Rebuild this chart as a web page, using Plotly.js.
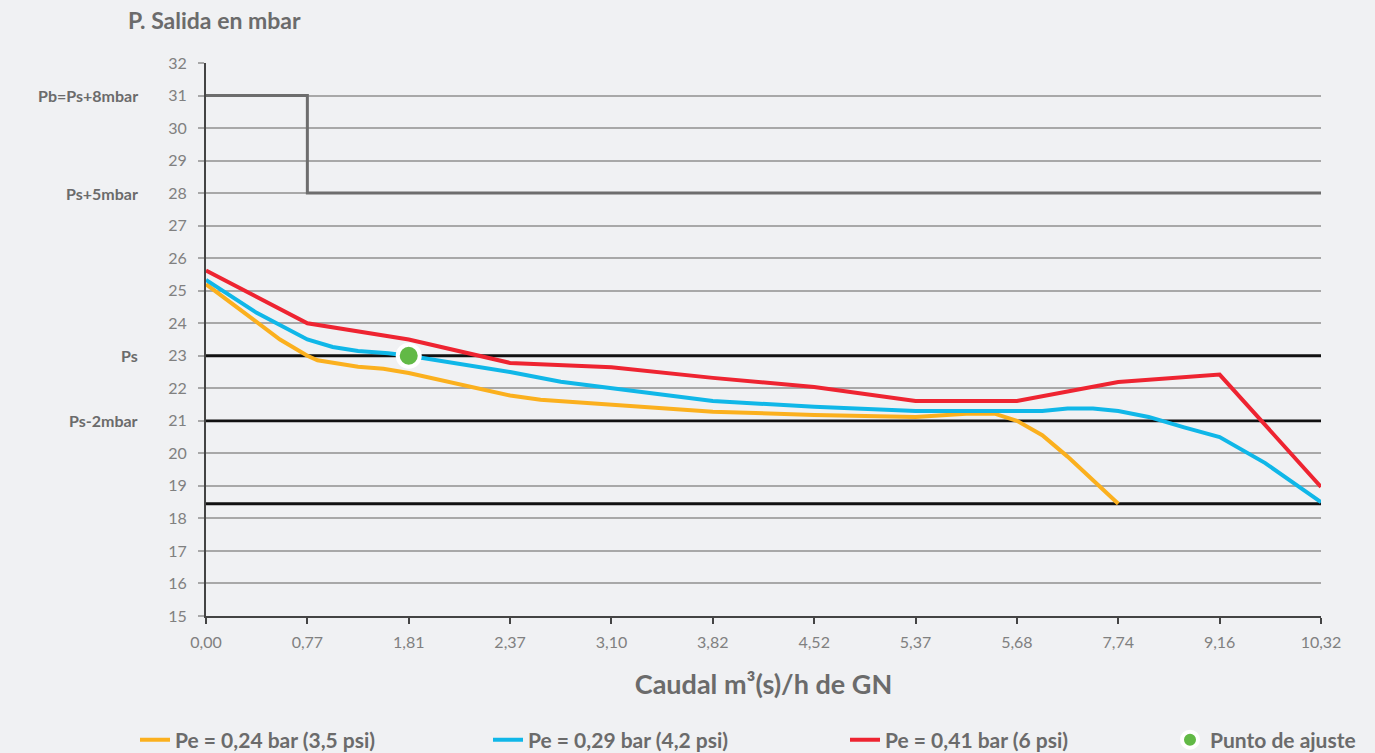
<!DOCTYPE html>
<html>
<head>
<meta charset="utf-8">
<script src="https://cdn.plot.ly/plotly-3.0.1.min.js"></script>
<style>
html,body{margin:0;padding:0;background:#f0f1f3;}
#chart{width:1375px;height:753px;}
</style>
</head>
<body>
<div id="chart"></div>
<script>
// Category tick labels (equally spaced positions on the x axis)
const xTickLabels = ['0,00','0,77','1,81','2,37','3,10','3,82','4,52','5,37','5,68','7,74','9,16','10,32'];
const xTickPos = [0,1,2,3,4,5,6,7,8,9,10,11];

// Series: position along the category axis and outlet pressure (mbar)
const orangeX = [0, 0.5, 0.73, 1, 1.1, 1.5, 1.75, 2, 2.25, 2.5, 3, 3.3, 4, 5, 6, 7, 7.5, 7.78, 8, 8.25, 8.5, 9];
const orangeY = [25.2, 24.05, 23.5, 23.0, 22.86, 22.66, 22.6, 22.47, 22.3, 22.1, 21.78, 21.65, 21.5, 21.28, 21.18, 21.12, 21.22, 21.22, 21.0, 20.56, 19.9, 18.45];

const blueX = [0, 0.5, 1, 1.25, 1.5, 1.8, 2, 2.6, 3, 3.5, 4, 5, 6, 7, 8, 8.25, 8.5, 8.75, 9, 9.3, 9.65, 10, 10.45, 11];
const blueY = [25.33, 24.32, 23.5, 23.27, 23.15, 23.08, 23.0, 22.7, 22.5, 22.2, 22.0, 21.61, 21.43, 21.3, 21.3, 21.3, 21.38, 21.38, 21.3, 21.12, 20.8, 20.5, 19.7, 18.5];

const redX = [0,1,2,3,4,5,6,7,8,9,10,11];
const redY = [25.62, 24.0, 23.5, 22.78, 22.65, 22.32, 22.04, 21.61, 21.61, 22.19, 22.42, 18.97];

const adjX = [2];
const adjY = [23.0];

// Reference levels
const refLevels = [23, 21, 18.45];
const stepX = [0, 1, 1, 11];
const stepY = [31, 31, 28, 28];
const refLabels = ['Pb=Ps+8mbar', 'Ps+5mbar', 'Ps', 'Ps-2mbar'];
const refLabelY = [31, 28, 23, 21];

const seriesNames = ['Pe = 0,24 bar (3,5 psi)', 'Pe = 0,29 bar (4,2 psi)', 'Pe = 0,41 bar (6 psi)', 'Punto de ajuste'];

const FONT = 'Lato, "Open Sans", sans-serif';
const GREY = '#6b6b6b';

const traces = [];
refLevels.forEach(function(lv){
  traces.push({x:[xTickPos[0], xTickPos[xTickPos.length-1]], y:[lv, lv], mode:'lines',
    line:{color:'#111111', width:2.8}, showlegend:false, hoverinfo:'skip'});
});
traces.push({x:stepX, y:stepY, mode:'lines', line:{color:'#6d6d6d', width:3}, showlegend:false, hoverinfo:'skip'});
traces.push({x:orangeX, y:orangeY, mode:'lines', name:seriesNames[0], line:{color:'#fbb01e', width:4}, legendwidth:308});
traces.push({x:blueX, y:blueY, mode:'lines', name:seriesNames[1], line:{color:'#10b7e8', width:4}, legendwidth:312});
traces.push({x:redX, y:redY, mode:'lines', name:seriesNames[2], line:{color:'#ee2431', width:4}, legendwidth:280});
traces.push({x:adjX, y:adjY, mode:'markers', name:seriesNames[3],
  marker:{color:'#62b946', size:22, line:{color:'#ffffff', width:4}}, legendwidth:220});

const annotations = refLabels.map(function(t, i){
  return {text:t, xref:'paper', x:0, xanchor:'right', xshift:-66, yref:'y', y:refLabelY[i], yanchor:'middle',
    showarrow:false, font:{family:FONT, size:16, color:GREY, weight:'bold'}};
});

const layout = {
  width:1375, height:753,
  paper_bgcolor:'#f0f1f3', plot_bgcolor:'#f0f1f3',
  margin:{l:206, r:54, t:63, b:137, autoexpand:false},
  font:{family:FONT, color:'#7f7f7f'},
  title:{text:'P. Salida en mbar', x:128/1375, xanchor:'left', xref:'container', y:1-21/753, yanchor:'middle', yref:'container',
    font:{family:FONT, size:23, color:GREY, weight:'bold'}},
  xaxis:{range:[0,11], tickvals:xTickPos, ticktext:xTickLabels, showgrid:false, zeroline:false,
    showline:true, linecolor:'#444444', linewidth:2, ticks:'outside', ticklen:6, tickcolor:'#444444', tickwidth:1.5,
    ticklabelstandoff:5, tickfont:{family:FONT, size:16, color:'#808080'},
    title:{text:'Caudal m³(s)/h de GN', standoff:25, font:{family:FONT, size:27, color:GREY, weight:'bold'}}},
  yaxis:{range:[15,32], dtick:1, tick0:15, showgrid:true, gridcolor:'#a8a8a8', gridwidth:1.5, zeroline:false,
    showline:true, linecolor:'#444444', linewidth:2, ticks:'outside', ticklen:6, tickcolor:'#a8a8a8', tickwidth:1.5,
    ticklabelstandoff:8, tickfont:{family:FONT, size:16, color:'#808080'}},
  showlegend:true,
  legend:{orientation:'h', x:(135-206)/1115, xanchor:'left', y:(616-740)/553, yanchor:'middle',
    bgcolor:'rgba(0,0,0,0)', font:{family:FONT, size:21, color:GREY, weight:'bold'}, itemsizing:'trace', tracegroupgap:0},
  annotations:annotations
};

Plotly.newPlot('chart', traces, layout, {displayModeBar:false, responsive:false});
</script>
</body>
</html>
